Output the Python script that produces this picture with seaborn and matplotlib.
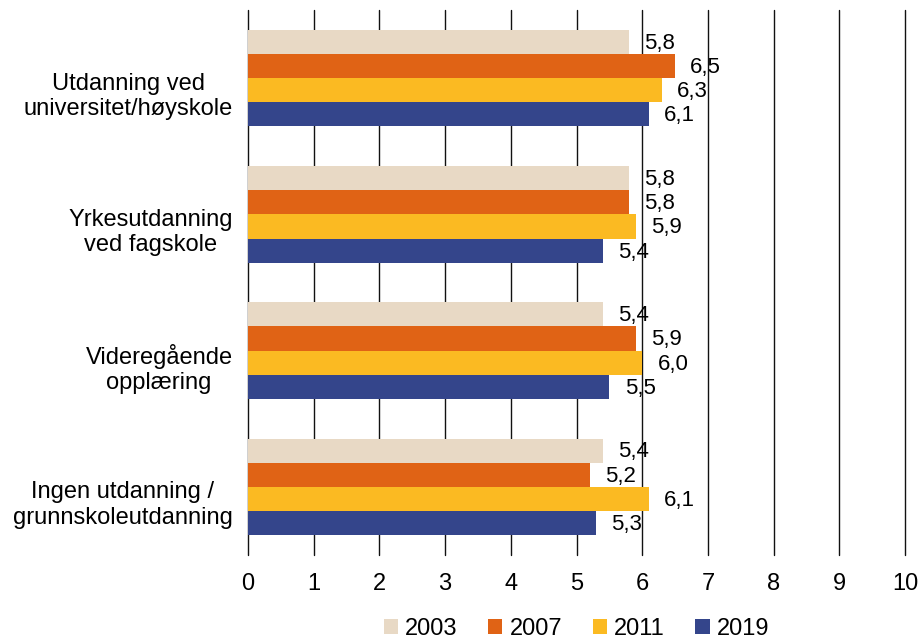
import pandas as pd
import seaborn as sns
import matplotlib.pyplot as plt
from matplotlib.transforms import ScaledTranslation

categories = ["Utdanning ved\nuniversitet/høyskole", "Yrkesutdanning\nved fagskole",
              "Videregående\nopplæring", "Ingen utdanning /\ngrunnskoleutdanning"]
years = ["2003", "2007", "2011", "2019"]
v2003 = [5.8, 5.8, 5.4, 5.4]
v2007 = [6.5, 5.8, 5.9, 5.2]
v2011 = [6.3, 5.9, 6.0, 6.1]
v2019 = [6.1, 5.4, 5.5, 5.3]
colors = ["#E8D9C5", "#E06315", "#FBBA22", "#34458B"]

rows = []
for year, vals in zip(years, [v2003, v2007, v2011, v2019]):
    for cat, v in zip(categories, vals):
        rows.append({"kategori": cat, "år": year, "verdi": v})
df = pd.DataFrame(rows)

sns.set_style("white", {"text.color": "black", "xtick.color": "black", "ytick.color": "black"})
plt.rcParams['font.family'] = ['Liberation Sans', 'DejaVu Sans']

fig = plt.figure(figsize=(9.22, 6.39), dpi=100)
ax = fig.add_axes([248 / 922, 1 - 555 / 639, (905 - 248) / 922, 545 / 639])
sns.barplot(data=df, y="kategori", x="verdi", hue="år", order=categories,
            hue_order=years, palette=colors, orient="h", width=0.71,
            saturation=1, linewidth=0, ax=ax)

# value labels right of each bar
for cont in ax.containers:
    for bar in cont:
        w = bar.get_width()
        yc = bar.get_y() + bar.get_height() / 2
        ax.annotate(f"{w:.1f}".replace(".", ","), (w, yc), xytext=(11, -1),
                    textcoords="offset points", ha="left", va="center",
                    fontsize=16, color="black")

ax.set_xlim(0, 10)
ax.set_ylim(3.5, -0.5)
ax.set_xticks(range(0, 11))
ax.grid(axis="x", color="#111111", linewidth=1)
for gl in ax.get_xgridlines():
    gl.set_clip_on(False)
ax.set_axisbelow(True)
for s in ax.spines.values():
    s.set_visible(False)
ax.tick_params(axis="both", length=0, labelsize=17, labelcolor="black")
ax.tick_params(axis="y", pad=11)
ax.tick_params(axis="x", pad=13)
ax.set_xlabel("")
ax.set_ylabel("")
shift = ScaledTranslation(0, -0.14, fig.dpi_scale_trans)
for lab in ax.get_yticklabels():
    lab.set_horizontalalignment("right")
    lab.set_multialignment("center")
    lab.set_transform(lab.get_transform() + shift)

ax.legend(loc="center", bbox_to_anchor=(0.5, -0.135), ncol=4, frameon=False,
          fontsize=17, handlelength=0.6, handleheight=0.6, columnspacing=1.3,
          handletextpad=0.3)

fig.savefig("out.png", dpi=100)
